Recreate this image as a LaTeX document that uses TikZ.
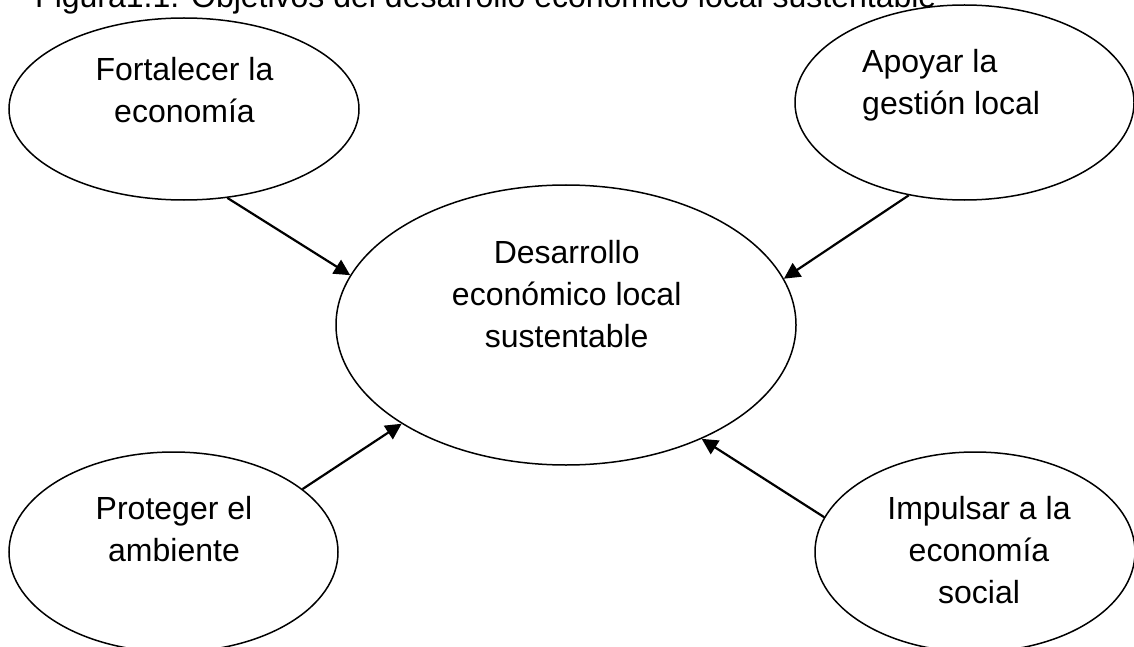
\documentclass[tikz,border=0pt]{standalone}
\usepackage{fontspec}
\setmainfont{Liberation Sans}
\usetikzlibrary{shapes.geometric,arrows.meta}
\begin{document}
\begin{tikzpicture}[x=1pt,y=-1pt,
  bubble/.style={ellipse,draw=black,line width=1.5pt,inner sep=0pt,fill=none},
  label/.style={inner sep=0pt,anchor=base,align=center,font=\fontsize{32}{42}\selectfont},
  conn/.style={line width=2.2pt,-{Triangle[length=16pt,width=16pt]}}]
\fill[white] (0,0) rectangle (1134,647);
\useasboundingbox (0,0) rectangle (1134,647);
% title
\node[inner sep=0pt,anchor=base west,font=\fontsize{32}{42}\selectfont] (title) at (35,8) {Figura1.1. Objetivos del desarrollo económico local sustentable};
% ellipses
\node[bubble,minimum width=350pt,minimum height=182pt] (tl) at (184,109) {};
\node[bubble,minimum width=339pt,minimum height=195pt] (tr) at (964.5,102.5) {};
\node[bubble,minimum width=460pt,minimum height=280pt] (c) at (566,325) {};
\node[bubble,minimum width=329pt,minimum height=200pt] (bl) at (173.5,552) {};
\node[bubble,minimum width=320pt,minimum height=200pt] (br) at (975,552) {};
% texts (anchor = baseline of the last line)
\node[label] (tltext) at (184.5,123) {Fortalecer la\\economía};
\node[label,anchor=base west,align=left] (trtext) at (862,115) {Apoyar la\\gestión local};
\node[label] (ctext) at (566.7,347) {Desarrollo\\económico local\\sustentable};
\node[label] (bltext) at (174,561) {Proteger el\\ambiente};
\node[label] (brtext) at (979,603) {Impulsar a la\\economía\\social};
% connectors
\draw[conn] (tl.-64) -- (c.167.6);
\draw[conn] (tr.-121) -- (c.12.2);
\draw[conn] (bl.26) -- (c.-149.7);
\draw[conn] (br.167.5) -- (c.-40.7);
\end{tikzpicture}
\end{document}
